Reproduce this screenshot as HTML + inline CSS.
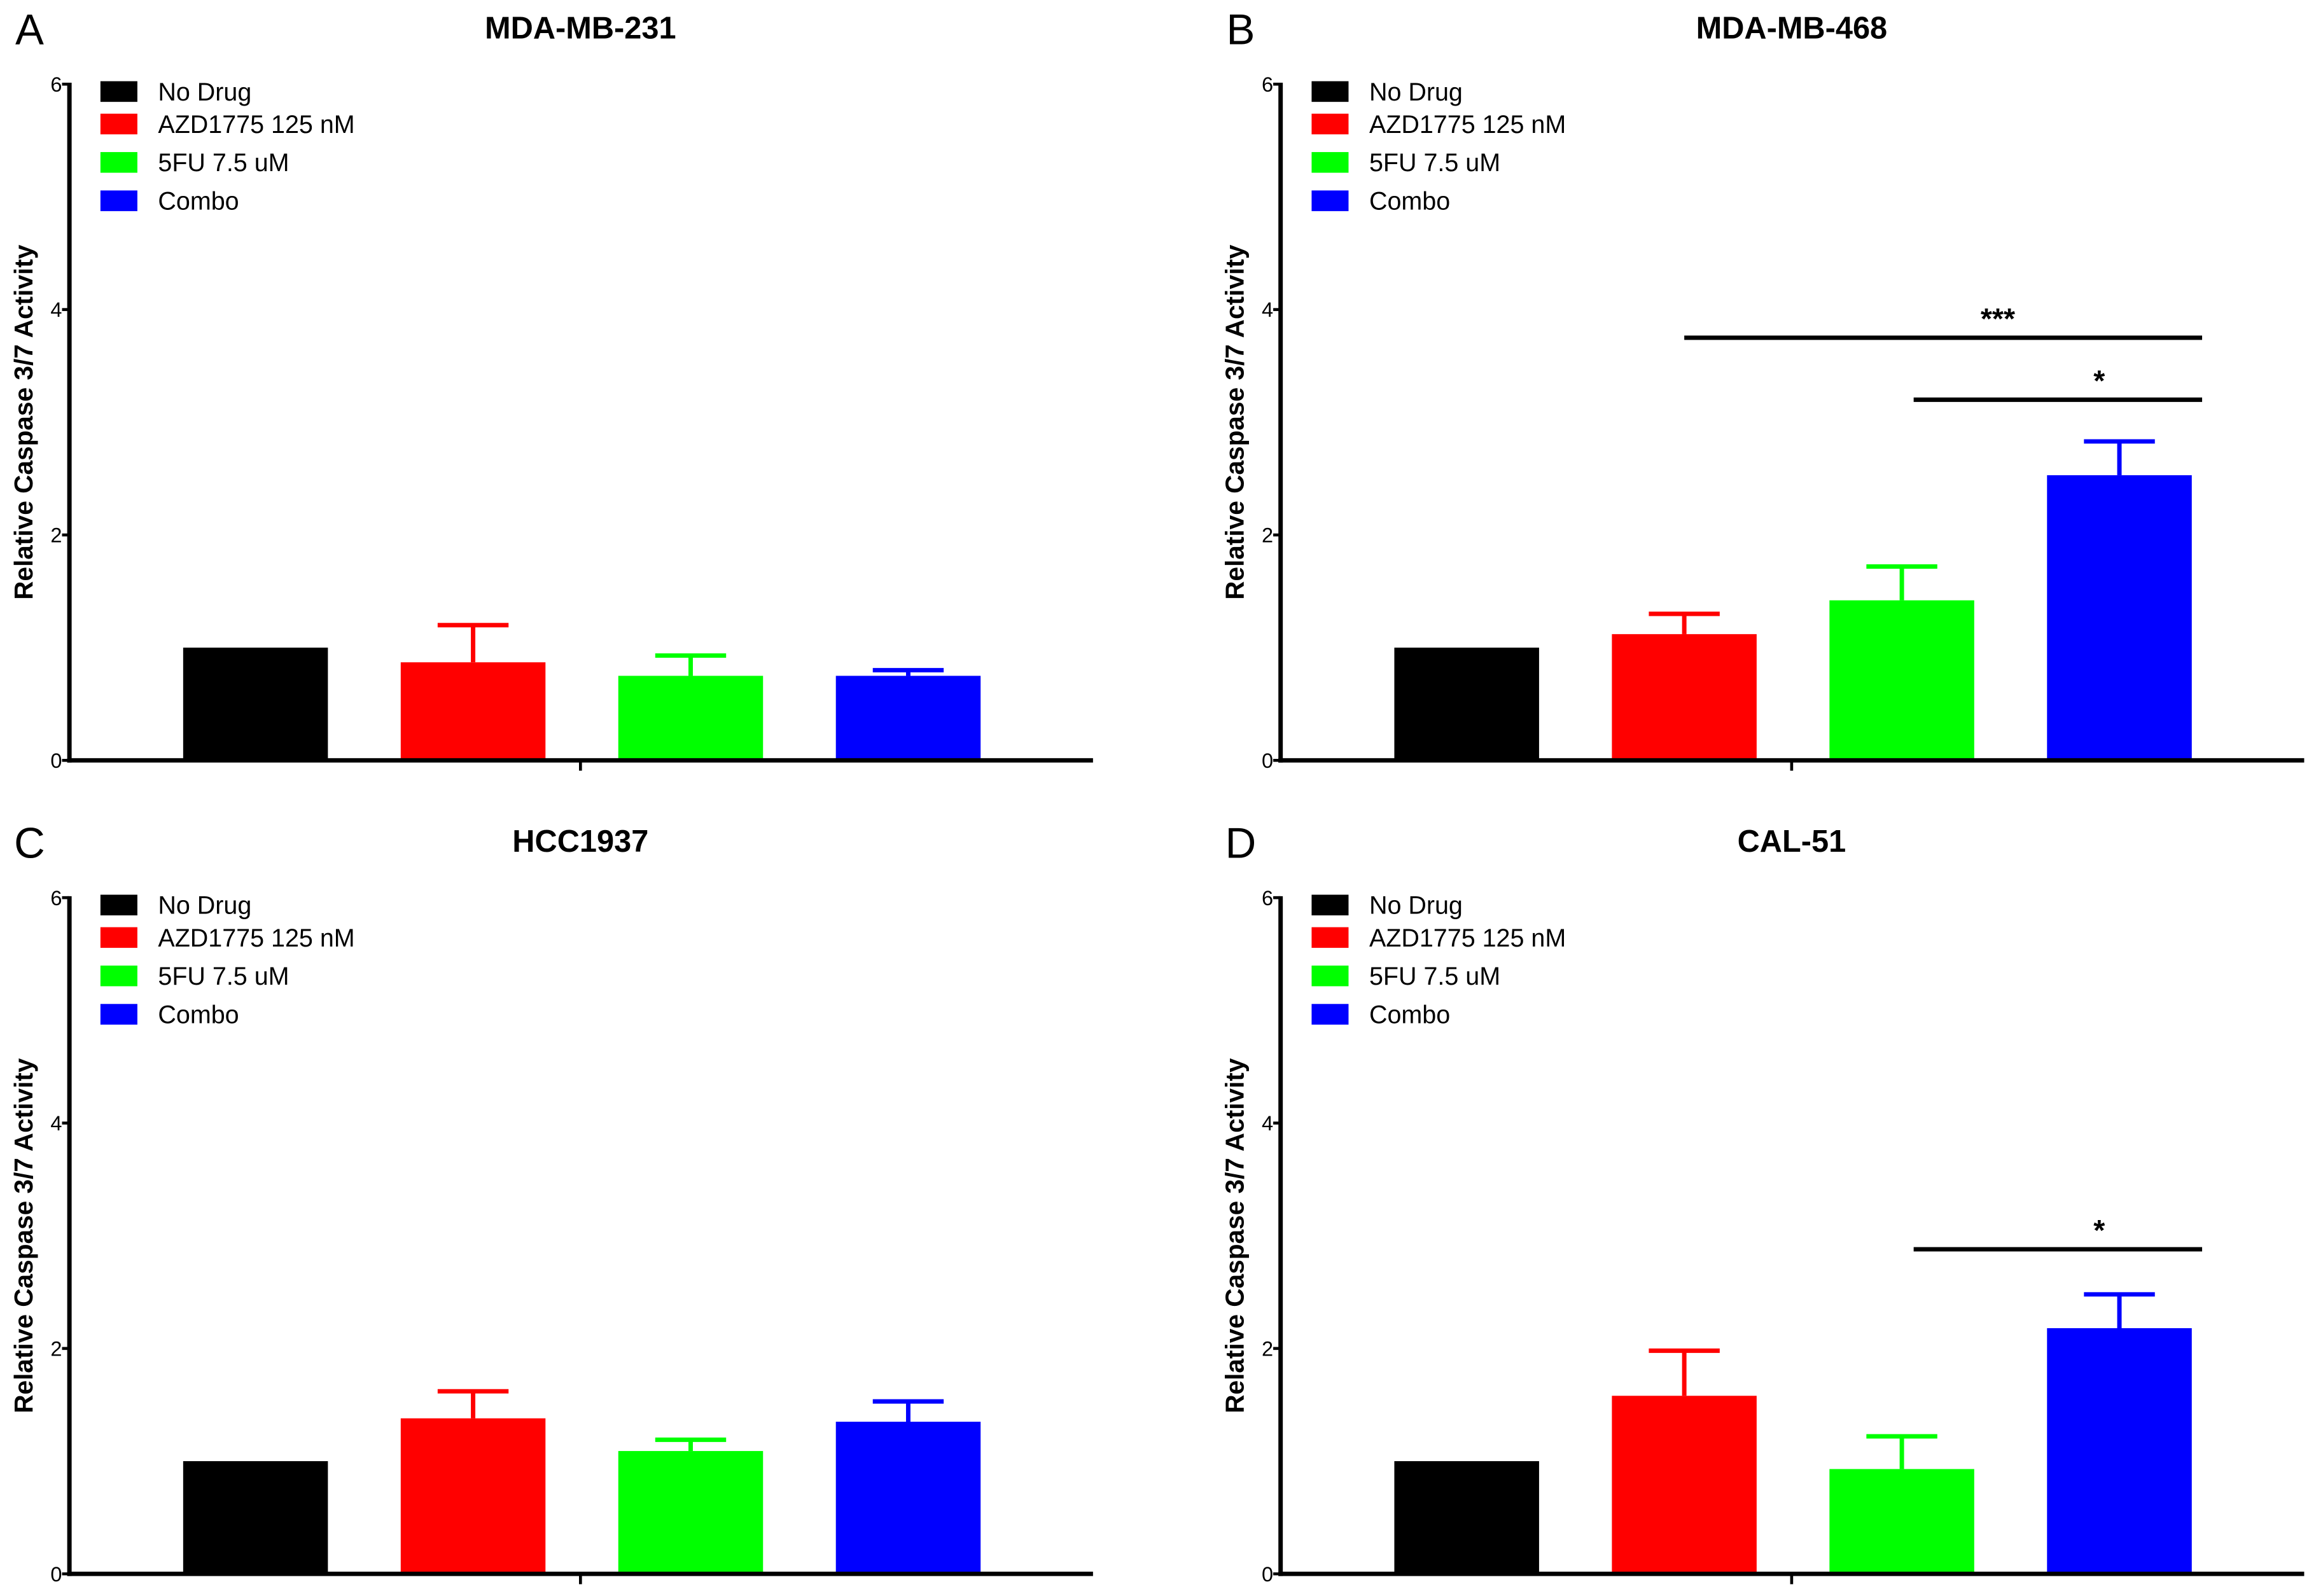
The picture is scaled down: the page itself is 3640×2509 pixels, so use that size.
<!DOCTYPE html>
<html><head><meta charset="utf-8"><style>
html,body{margin:0;padding:0;background:#fff;}
svg{display:block;}
text{font-family:"Liberation Sans",sans-serif;}
</style></head><body>
<svg id="fig" width="3640" height="2509" viewBox="0 0 1568 1081" preserveAspectRatio="none" xmlns="http://www.w3.org/2000/svg"></svg>
<script>
const panelTitles = ["MDA-MB-231","MDA-MB-468","HCC1937","CAL-51"];
const panelLetters = ["A","B","C","D"];
const categories = ["No Drug","AZD1775 125 nM","5FU 7.5 uM","Combo"];
const colors = ["#000000","#ff0000","#00ff00","#0000ff"];
const meansA = [1.0,0.87,0.75,0.75];
const errTopA = [1.0,1.2,0.93,0.8];
const meansB = [1.0,1.12,1.42,2.53];
const errTopB = [1.0,1.3,1.72,2.83];
const meansC = [1.0,1.38,1.09,1.35];
const errTopC = [1.0,1.62,1.19,1.53];
const meansD = [1.0,1.58,0.93,2.18];
const errTopD = [1.0,1.98,1.22,2.48];
const yTicks = [0,2,4,6];
const sigPanel = [1,1,3];
const sigFrom = [1,2,2];
const sigTo = [3,3,3];
const sigY = [3.75,3.2,2.88];
const sigLabel = ["***","*","*"];

const allMeans=[meansA,meansB,meansC,meansD];
const allErr=[errTopA,errTopB,errTopC,errTopD];
const NS="http://www.w3.org/2000/svg";
const svg=document.getElementById('fig');
function mk(tag,attrs,parent){const e=document.createElementNS(NS,tag);for(const k in attrs)e.setAttribute(k,attrs[k]);(parent||svg).appendChild(e);return e;}
const offs=[[0,0],[820,0],[0,551],[820,551]];
const groups=[];
for(let p=0;p<4;p++){
  const ox=offs[p][0], oy=offs[p][1];
  const g=mk('g',{});
  
  
  groups.push(g);
  const axL=47+ox, axR=740+ox, y0=515+oy, y6=57+oy;
  const yS=v=>y0-(y0-y6)*v/6;
  const xS=i=>173+ox+i*147.3;
  groups[p].yS=yS; groups[p].xS=xS;
  let t=mk('text',{x:20+ox,y:30+oy,'font-size':29,'text-anchor':'middle'},g);t.textContent=panelLetters[p];
  
  
  t=mk('text',{x:393+ox,y:26+oy,'font-size':21,'font-weight':'bold','text-anchor':'middle'},g);t.textContent=panelTitles[p];
  
  
  t=mk('text',{x:0,y:0,'font-size':17.5,'font-weight':'bold','text-anchor':'middle',transform:`translate(${22+ox},${286+oy}) rotate(-90)`},g);t.textContent="Relative Caspase 3/7 Activity";
  
  
  for(let i=0;i<4;i++){
    const cx=xS(i), m=allMeans[p][i], e=allErr[p][i];
    if(e>m){
      const l=mk('line',{x1:cx,x2:cx,y1:yS(m),y2:yS(e),stroke:colors[i],'stroke-width':3},g);
      
      
      const c=mk('line',{x1:cx-24,x2:cx+24,y1:yS(e),y2:yS(e),stroke:colors[i],'stroke-width':3},g);
      
      
    }
    const r=mk('rect',{x:cx-49,y:yS(m),width:98,height:y0-yS(m),fill:colors[i]},g);
    
    
  }
  let a=mk('line',{x1:axL,x2:axL,y1:y6-1,y2:y0+1.5,stroke:'#000','stroke-width':3},g);
  
  
  a=mk('line',{x1:axL-1.5,x2:axR,y1:y0,y2:y0,stroke:'#000','stroke-width':3},g);
  
  
  mk('line',{x1:393+ox,x2:393+ox,y1:y0,y2:y0+7,stroke:'#000','stroke-width':2},g);
  for(const v of yTicks){
    mk('line',{x1:axL-5,x2:axL,y1:yS(v),y2:yS(v),stroke:'#000','stroke-width':2},g);
    const tl=mk('text',{x:axL-5,y:yS(v)+5,'font-size':14,'text-anchor':'end'},g);tl.textContent=v;
    
    
  }
  const ly=[62,84,110,136];
  for(let i=0;i<4;i++){
    const lg=mk('g',{},g);
    
    
    mk('rect',{x:68+ox,y:ly[i]-7+oy,width:25,height:14,fill:colors[i]},lg);
    const lt=mk('text',{x:107+ox,y:ly[i]+6+oy,'font-size':17},lg);lt.textContent=categories[i];
  }
}
for(let s=0;s<sigPanel.length;s++){
  const g=groups[sigPanel[s]];
  const x1=g.xS(sigFrom[s])+(sigFrom[s]===1?0:8), x2=g.xS(sigTo[s])+56, y=g.yS(sigY[s]);
  const l=mk('line',{x1:x1,x2:x2,y1:y,y2:y,stroke:'#000','stroke-width':3},g);
  
  
  const t=mk('text',{x:(x1+x2)/2+(sigFrom[s]===1?37:28),y:y-6,'font-size':20,'font-weight':'bold','text-anchor':'middle'},g);
  t.textContent=sigLabel[s];
  
  
}
</script>
</body></html>
